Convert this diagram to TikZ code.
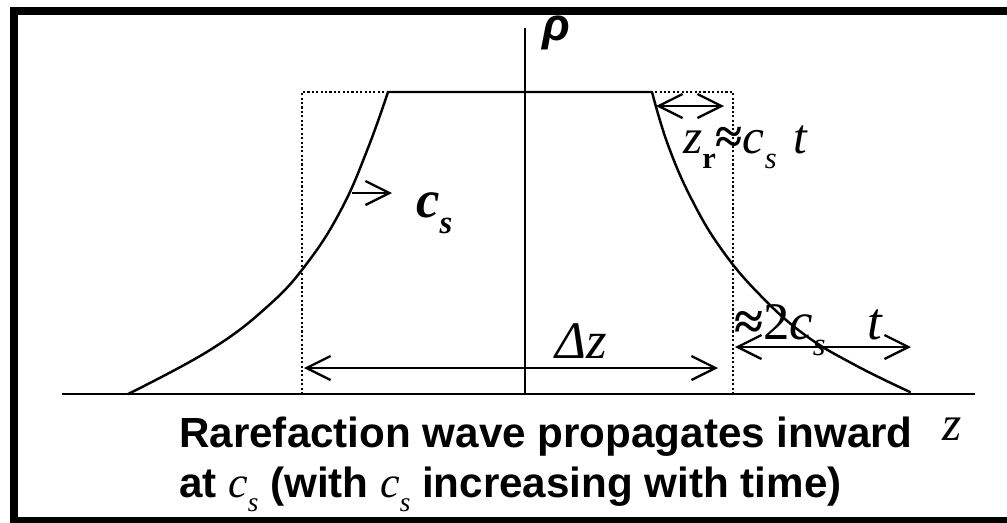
\documentclass[tikz,border=0pt]{standalone}
\usepackage{fontspec}
\setmainfont{Liberation Serif}
\setsansfont{Liberation Sans}
\usetikzlibrary{arrows.meta}

\newcommand{\lowsub}[1]{\raisebox{-0.32em}{\scalebox{0.62}{#1}}}
\newcommand{\csym}{\textit{c}\lowsub{\textit{s}}}

\begin{document}
\begin{tikzpicture}[x=0.02cm, y=-0.02cm, line width=1.4pt,
	>={Straight Barb[length=0.48cm,width=0.48cm,line width=1.3pt]},
	lab/.style={font=\fontsize{28}{30}\selectfont, inner sep=0pt, anchor=base west},
	capline/.style={lab, font=\fontsize{24}{28}\selectfont\sffamily\bfseries},
	guide/.style={line width=1.2pt, dash pattern=on 1.2pt off 1.3pt}]
	\useasboundingbox (0,0) rectangle (1007,522);
	\clip (0,0) rectangle (1007,522);
	\draw[line width=4.5pt] (14,11) rectangle (1040,521);
	% axes
	\coordinate (zl) at (62,394);
	\coordinate (zr) at (975,394);
	\coordinate (rhotop) at (525,28);
	\draw (zl) -- (zr);
	\draw (525,394) -- (rhotop);
	\node[lab, font=\fontsize{26}{28}\selectfont\sffamily\bfseries\itshape] (rho) at (541,40) {ρ};
	\node[lab] (zlab) at (941,440) {\textit{z}};
	% initial box
	\draw[guide] (302,394) -- (302,92) -- (388,92);
	\draw[guide] (733,394) -- (733,92) -- (652,92);
	% density profile
	\draw[line cap=round] plot[smooth, tension=0.7] coordinates {(128,394) (210,350) (268,306) (308,262) (342,208) (368,148) (388,92)}
		-- (652,92)
		plot[smooth, tension=0.7] coordinates {(652,92) (668,145) (692,200) (722,250) (760,295) (805,335) (855,365) (910,392)};
	% wave speed
	\coordinate (cs0) at (352,193);
	\coordinate (cs1) at (392,193);
	\draw[->] (cs0) -- (cs1);
	\node[lab, font=\fontsize{30}{32}\selectfont\bfseries\itshape] (cslab) at (415,217) {c\lowsub{s}};
	% rarefaction width
	\coordinate (r0) at (656,106);
	\coordinate (r1) at (724,106);
	\draw[<->] (r0) -- (r1);
	\node[lab] (zrlab) at (682,153) {\textit{z}\lowsub{\textbf{r}}\textbf{≈}\csym\hspace{0.35em}\textit{t}};
	% box width
	\coordinate (d0) at (304,368);
	\coordinate (d1) at (718,368);
	\draw[<->] (d0) -- (d1);
	\node[lab, font=\fontsize{30}{32}\selectfont] (dzlab) at (554,358) {\textit{Δz}};
	% spread
	\coordinate (s0) at (735,347);
	\coordinate (s1) at (911,347);
	\draw[<->] (s0) -- (s1);
	\node[lab, font=\fontsize{30}{32}\selectfont] (spread) at (733,339) {\textbf{≈}2\csym\hspace{0.8em}\textit{t}};
	% caption
	\node[capline] (cap1) at (178,447) {Rarefaction wave propagates inward};
	\node[capline] (cap2) at (178,497) {at {\rmfamily\mdseries\fontsize{25}{28}\selectfont\csym} (with {\rmfamily\mdseries\fontsize{25}{28}\selectfont\csym} increasing with time)};
\end{tikzpicture}
\end{document}
